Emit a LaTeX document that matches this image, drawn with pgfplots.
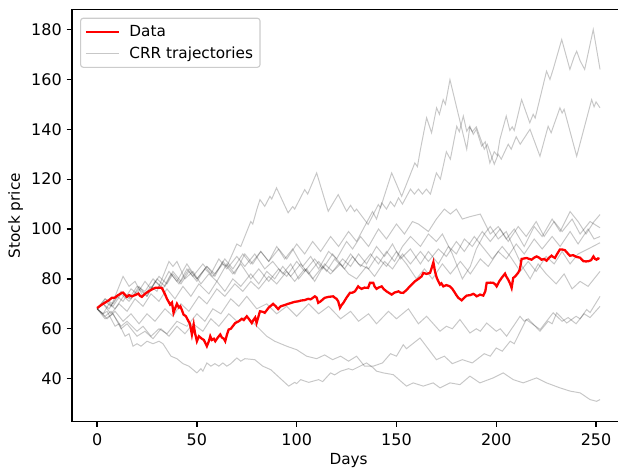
\documentclass[border=0pt]{standalone}
\usepackage{fontspec}
\setmainfont{DejaVu Sans}
\usepackage{pgfplots}
\pgfplotsset{compat=1.18}

\tikzset{crr/.style={black, draw opacity=0.22, line width=0.7pt}}

\begin{document}
\begin{tikzpicture}[font=\fontsize{11}{13}\selectfont]
\begin{axis}[
    scale only axis, width=398.2pt, height=296.6pt,
    xmin=-12.6, xmax=264.6, ymin=22.75, ymax=188,
    xtick={0,50,100,150,200,250}, ytick={40,60,80,100,120,140,160,180},
    xtick pos=left, ytick pos=left, tick align=outside,
    major tick length=3.85pt,
    every tick/.style={black, line width=0.88pt},
    axis line style={line width=0.88pt},
    /pgf/number format/assume math mode=true,
    ticklabel style={font=\fontsize{11.5}{13}\selectfont},
    xticklabel style={yshift=-1.5pt},
    xlabel={Days}, ylabel={Stock price},
    xlabel style={at={(axis description cs:0.5,0)}, anchor=north, inner sep=0pt, yshift=-22.4pt},
    ylabel style={at={(axis description cs:0,0.5)}, anchor=south, inner sep=0pt, yshift=35pt},
    legend style={at={(axis description cs:0,1)}, anchor=north west, xshift=5.8pt, yshift=-5.8pt,
        draw=black!20, line width=0.8pt, rounded corners=2pt, fill=white, fill opacity=0.8, text opacity=1,
        font=\fontsize{11}{13}\selectfont, row sep=2pt, inner xsep=3pt, inner ysep=3pt},
    legend cell align=left,
    legend image code/.code={\draw[#1] (0pt,0pt) -- (23.5pt,0pt); \path (28.5pt,0pt);},
]
% T1
\addplot[crr, forget plot] coordinates {(0,68)(3,70)(6,68)(10,73)(13,71)(17,76)(20,74)(24,79)(27,76)(31,81)(35,78)(38,82)(42,78)(46,83)(50,79)(54,84)(58,81)(63,86)(65,85)(70,94)(72,93)(77,103)(78,102)(80,107.8)(81.6,111.8)(84,109.1)(86.6,113.1)(87.5,112)(89.9,116.5)(95.7,106.5)(98,109)(99,108)(104,115.8)(105.5,114)(110,122.5)(115.8,107.1)(120.8,113.8)(125,107.1)(127,109.5)(129,107)(130,108)(135.8,101.8)(140.9,109.8)(142,108.5)(147.6,122.5)(152.6,113.1)(159.2,126.5)(160.5,125)(162,131.9)(165.1,144.6)(167.6,138.6)(170.1,148.6)(171.5,146)(173.4,151.9)(174.5,150)(176.8,159.9)(185.2,132)(186.8,141.2)(188.5,138)(190,140)(192.7,133.2)(194.5,135)(196.8,126.5)(199,131)(200.5,129.5)(201.8,135.9)(205,145.3)(206.8,139.5)(208,141)(209,139.5)(212.7,151.9)(216.8,142.6)(218.5,146)(219.5,144.5)(225.2,163.3)(226.9,160)(228.5,164)(232.8,176)(236.9,164)(239,169)(240.3,171.3)(242,167.5)(244.3,164)(248.6,180)(252,164)};
% T2
\addplot[crr, forget plot] coordinates {(0,68)(4,72)(8,69)(12,74)(16,71)(21,76)(25,73)(30,80)(34,77)(38,83)(42,79)(46,84)(50,80)(55,85)(59,82)(64,88)(68,84)(73,90)(77,86)(82,91)(86,87)(91,92)(95,88)(100,94)(104,90)(108,95)(112,91)(117,97)(121,93)(126,99)(130,95)(134,101)(138,107)(140,104)(142.6,110.5)(145,108)(147,111)(149,109)(151,112.5)(153,110)(157,116)(159,114)(161,116)(163,114)(165,116)(167,114)(170,122.5)(172,120)(175,131)(177,128)(180.2,141.2)(181.5,139)(183.5,145.3)(185.2,139.2)(186.5,141)(188,139)(190,141)(194,132)(195.5,134)(199,126)(201,130)(202.5,128)(206,134)(207.5,132)(210,137)(212,134)(216.9,140)(221.9,129.2)(226,141.2)(227.5,138.6)(231.9,148.6)(233,146.5)(234,148)(240.3,129.2)(247.8,151.9)(249,149)(250,151)(252,148.6)};
% T3
\addplot[crr, forget plot] coordinates {(0,68)(4,71)(7,69)(13,81)(16,77)(19,79)(23,73)(27,77)(30,75)(36,87)(38,85)(40,87)(44,80)(48,83)(52,78)(56,82)(60,79)(65,86)(69,82)(74,90)(78,86)(82,91)(86,87)(90,93)(94,88)(98,92)(103,85)(107,89)(111,84)(116,91)(120,88)(125,95)(128,92)(132,97)(136,93)(141,100)(145,96)(150,102)(154,98)(158,103)(161,102)(166,99)(170,104)(174,108)(177,106)(180,108)(183,104)(187,105)(192,106)(197,98)(201,101)(205,96)(209,100)(214,93)(219,101)(223,97)(228,104)(232,99)(237,107)(241,103)(245,98)(249,103)(252,105.8)};
% T4
\addplot[crr, forget plot] coordinates {(0,68)(3,66)(6,70)(9,68)(14,74)(17,72)(21,77)(25,73)(29,79)(33,76)(37,82)(41,78)(45,84)(48,81)(53,86)(57,82)(61,88)(65,84)(70,89)(74,85)(79,90)(84,84)(88,87)(93,82)(97,86)(101,80)(105,84)(109,79)(114,86)(118,83)(123,88)(127,85)(131,90)(135,86)(140,93)(144,89)(148,94)(152,88)(157,92)(162,86)(166,91)(171,86)(176,93)(180,90)(184,96)(188,93)(193,99)(197,95)(202,100)(206,95)(211,101)(215,97)(220,103)(224,97)(229,103)(233,99)(238,104)(242,98)(247,103)(252,100.5)};
% T5
\addplot[crr, forget plot] coordinates {(0,68)(4,72)(8,70)(12,75)(16,72)(20,77)(24,75)(28,80)(32,77)(36,83)(40,79)(45,86)(50,80)(55,85)(59,81)(63,87)(68,82)(72,86)(77,80)(81,84)(86,79)(91,84)(95,81)(100,87)(104,83)(109,88)(113,84)(118,90)(123,85)(127,90)(131,86)(136,84)(140,89)(145,85)(150,91)(155,86)(160,80)(164,84)(168,80)(173,86)(177,82)(182,87)(187,82)(192,88)(196,85)(201,91)(205,88)(210,94)(214,90)(219,96)(223,92)(228,97)(232,93)(237,99)(241,94)(246,100)(249,96)(252,97)};
% T6
\addplot[crr, forget plot] coordinates {(0,68)(5,64)(9,67)(13,63)(17,66)(21,62)(25,66)(29,63)(34,68)(38,65)(42,70)(46,67)(51,73)(55,70)(60,76)(64,73)(69,78)(73,75)(77,79)(81,76)(86,81)(90,78)(95,83)(99,79)(104,84)(108,80)(113,85)(117,82)(122,86)(126,82)(130,80)(135,85)(139,81)(144,87)(148,84)(153,90)(157,86)(162,91)(166,87)(171,92)(175,89)(180,95)(184,91)(189,97)(194,92)(198,88)(203,93)(207,89)(212,83)(216,87)(220,83)(225,89)(229,86)(233,91)(237,86)(241,90)(246,92)(252,94.5)};
% T7
\addplot[crr, forget plot] coordinates {(0,68)(3,70)(7,66)(11,70)(15,67)(19,72)(23,69)(27,74)(31,71)(35,76)(39,72)(43,77)(47,73)(51,78)(56,74)(60,79)(64,75)(68,80)(72,77)(77,82)(81,78)(85,83)(89,80)(93,85)(97,81)(102,86)(106,82)(111,87)(115,83)(119,88)(124,84)(128,89)(132,85)(137,90)(141,86)(145,91)(149,87)(153,93)(157,97)(162,93)(166,98)(170,95)(173,98)(178,90)(183,80)(187,85)(190,92)(194,98)(197,101)(201,96)(205,99)(209,92)(213,85)(217,80)(221,86)(225,82)(230,78)(234,82)(238,76)(242,79)(246,77)(249,80)(252,83)};
% T8
\addplot[crr, forget plot] coordinates {(0,68)(4,65)(7,67)(12,61)(15,63)(20,59)(23,61)(27,57)(31,60)(35,58)(40,63)(45,61)(50,66)(54,63)(58,68)(62,66)(67,72)(71,69)(75,73)(80,68)(85,70)(90,66)(95,69)(100,65)(106,70)(111,66)(116,69)(122,64)(127,67)(131,63)(136,66)(140,62)(146,67)(150,64)(156,68)(161,62)(165.1,65)(171.8,59)(175,61)(178,60)(181.8,63.7)(186.8,58.3)(190,60)(192,59)(195.2,62.3)(200,59)(202,60)(205.2,57)(211.9,65)(214,63)(216,64)(221.9,59)(226,63)(228,62)(230.3,66.4)(235.3,62.3)(240,65)(242,64)(245.3,67.7)(247,66.5)(252,73)};
% T9
\addplot[crr, forget plot] coordinates {(0,68)(4,64)(8,66)(12,60)(15,62)(20,57)(24,59)(28,56)(32,60)(36,57)(40,61)(44,58)(48,62)(53,59)(57,64)(61,61)(66,66)(70,63)(75,65)(80,61)(85,57)(89,55)(95,53)(100,51.6)(105,49)(110,48)(114,49.5)(118,47.6)(122,49)(126,47)(130,49)(134,45)(138.4,45)(143,46.3)(147,50)(150,49)(153.4,53.6)(155,52)(161.8,56.3)(170,47.6)(174,49)(178,46)(183,47.6)(188,46.3)(194,50)(197,49)(200,52.3)(203,51)(207,55)(209,54)(215,63.7)(222,59.7)(228.5,66.4)(233,63)(236,64.5)(240,62)(244,66)(247,64.5)(252,69)};
% T10
\addplot[crr, forget plot] coordinates {(0,68)(3,66)(5,67)(9,61)(11,62)(14,57)(16,58)(18,53)(20,54)(22,53)(25,55)(28,54)(31,55)(33,54)(37,49)(40,48)(43,46)(46,45)(50,42.3)(52,44)(53,43)(55,46.3)(57,45)(59,46)(61,45)(63,46.3)(65,45)(67,46)(70,48.3)(72,47)(74,48)(79,47.6)(83,45)(87,43.6)(96,37)(99,38.5)(100,38)(102,39.6)(106,38.5)(111,39.6)(113,38.8)(117,42.3)(119,41.5)(122,43)(126,44)(128,43.5)(135,46.3)(138.4,44.3)(140,43)(143.4,42.3)(148.4,41.6)(155,37)(158.4,38.3)(163.4,37)(168.4,38.3)(171.8,36.3)(176.8,38.3)(181.8,37.6)(186.8,41)(191.8,38.3)(198.5,40.3)(203.5,42.3)(208.5,39.6)(213.5,38.3)(220.2,40.3)(225.2,38.3)(231.9,36.3)(237,35)(242,34.3)(247,31.6)(250.3,30.9)(252,31.6)};
% observed data
\addplot[red, line width=1.65pt, forget plot] coordinates {(0,68.3)(2,69.5)(4,70.5)(6,71.5)(7.4,72.4)(9,72.5)(10,73.2)(12.4,74.4)(13,74.5)(14.9,72.8)(16,73.5)(17.4,73)(19,73.5)(20.7,74.1)(21.5,73.2)(22.4,72.8)(24,74)(25.8,75)(27.5,75.8)(29.1,76.4)(31,76.5)(32.4,76.4)(33,75.5)(34.1,73.7)(35,72)(36.6,69.7)(37.5,70.5)(38.3,66.4)(39,68)(40,70)(41,68.5)(41.7,69)(42.5,67.5)(43.3,65.7)(44.5,65)(45.8,63)(46.5,62)(47.5,57.7)(48.4,61.7)(49,58.5)(50,55)(51,57)(52.5,56)(53.5,55.5)(55,53)(56,55)(56.7,57)(57.5,55.5)(58.5,56)(59.2,55)(60.5,56.5)(61.7,57.7)(62.5,56.5)(63.5,56)(64.2,55)(65,57.5)(65.9,59.7)(67,60)(69.2,62.3)(71,63)(72.5,64)(73.5,63.5)(75,65)(76,64)(77.5,62.3)(78.3,63.5)(79.2,64.5)(79.9,62.3)(81.6,67)(83,66.8)(84,66.4)(86,68.5)(88.2,70)(89.5,69)(90.7,67.9)(92,69)(94,69.5)(95.7,70)(97,70.3)(99,70.8)(100.8,71)(102,71.3)(104,71.5)(105.8,72)(107,71.8)(109.1,73)(110,72.5)(110.8,70.4)(112,71)(114,72.4)(116,72.8)(118.3,73)(119,72.5)(120,72)(120.8,71)(121.7,68.4)(122.5,69.5)(123.4,70.4)(125,72.5)(126.7,74.4)(128,74.5)(129.2,75)(130.8,77)(131.5,76.5)(132.5,76)(134,76.5)(135.8,76.4)(136.7,78.4)(138.4,78.4)(139,77)(140,76)(141,76.5)(142.6,77)(143.5,76)(145,75)(146,74.5)(147.6,73.7)(149,74.5)(151,75)(152,74.5)(153.4,74.4)(155,75.5)(156.7,77)(158,78)(159.2,79)(161,80)(162.6,81)(163.5,82.4)(165,82)(166.8,82.4)(167.5,84)(168.5,86.7)(169.3,83)(170.2,80.4)(171,79)(171.8,77.7)(172.5,78.2)(173.5,77)(175,77.5)(176.8,77)(178,76)(179.3,74.4)(180,73.5)(181,72.4)(182.7,71.4)(184,72.5)(185.2,73.3)(187,73.5)(188.5,74)(189.5,73.5)(190.2,73)(191.9,73.7)(193.5,73.3)(194.5,75)(195.2,78.4)(197,78.5)(198.5,78.4)(199.5,77.8)(200.2,77)(201.5,79)(202.7,80.4)(204.4,82.1)(205,81)(206,79.7)(207,78)(207.7,76.4)(208.5,80.4)(209.5,81)(210.2,81.7)(211,82.5)(211.8,83.7)(212.7,88)(214,88.2)(215.2,88.4)(216.5,88)(217.7,87.7)(219,88.5)(220.2,89)(221.5,88.5)(222.7,87.7)(224,88)(225.2,87.3)(226.5,88.5)(227.7,89.3)(228.5,88.8)(229.4,88.4)(230.5,90)(231.9,91.8)(233,91.8)(234.4,91.5)(235.5,90.5)(236.9,89.3)(238.5,89.5)(240.3,88.8)(242,88.5)(243.7,87.1)(245,87)(246.2,87.1)(247.5,87.5)(248.7,89)(249.5,88)(250.3,87.7)(251,88.2)(251.7,88)};
\addlegendimage{red, line width=1.65pt}
\addlegendentry{Data}
\addlegendimage{black, draw opacity=0.22, line width=0.7pt}
\addlegendentry{CRR trajectories}
\coordinate (bbSW) at (axis cs:-12.6,22.75);
\coordinate (bbNE) at (axis cs:261,188);
\end{axis}
\pgfresetboundingbox
\path[use as bounding box] ([xshift=-51.8pt,yshift=-33.4pt]bbSW) rectangle ([yshift=6.9pt]bbNE);
\end{tikzpicture}
\end{document}
